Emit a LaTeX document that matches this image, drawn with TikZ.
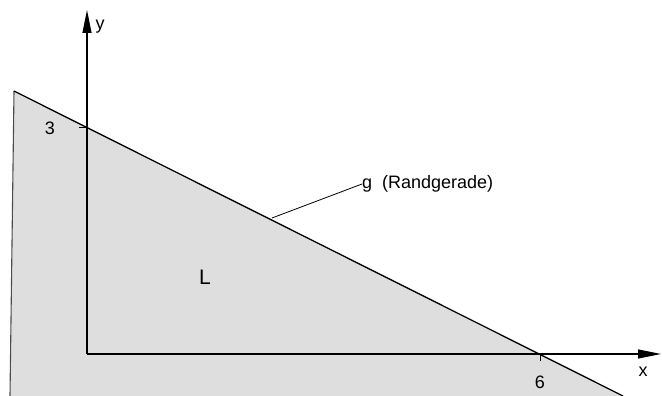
\documentclass[tikz,border=0pt]{standalone}
\usepackage{fontspec}
\setmainfont{Liberation Sans}
\usetikzlibrary{arrows.meta}
\begin{document}
\begin{tikzpicture}[x=1pt,y=-1pt,
  axis/.style={line width=1.1pt,-{Triangle[length=23pt,width=9pt]}},
  bound/.style={line width=1.3pt},
  lbl/.style={font=\fontsize{18}{20}\selectfont,inner sep=0pt}]
\useasboundingbox (0,0) rectangle (662,396);
\coordinate (O) at (87,354);
\coordinate (A) at (14,91);
\coordinate (B) at (623,396);
\coordinate (C) at (10,396);
\fill[black!13] (A) -- (B) -- (C) -- cycle;
\draw[line width=1.1pt, black!70] (A) -- (C);
\draw[bound] (A) -- (B);
\coordinate (ytip) at (87,10);
\coordinate (xtip) at (661,354);
\draw[axis] (O) -- (ytip);
\draw[axis] (O) -- (xtip);
\coordinate (t3) at (87,127);
\coordinate (t3a) at (79,127);
\draw[line width=0.8pt] (t3a) -- (t3);
\coordinate (t6) at (540,354);
\coordinate (t6a) at (540,361);
\draw[line width=0.8pt] (t6) -- (t6a);
\node[lbl] (ylab) at (100,27) {y};
\node[lbl] (xlab) at (643,372) {x};
\node[lbl] (l3) at (50,128) {3};
\node[lbl] (l6) at (540,382) {6};
\node[lbl] (L) at (205,277) {\fontsize{21}{23}\selectfont L};
\node[lbl,anchor=west] (g) at (362,184) {g\ \ (Randgerade)};
\coordinate (gp) at (272,218);
\draw[line width=0.8pt] (gp) -- (g.west);
\end{tikzpicture}
\end{document}
